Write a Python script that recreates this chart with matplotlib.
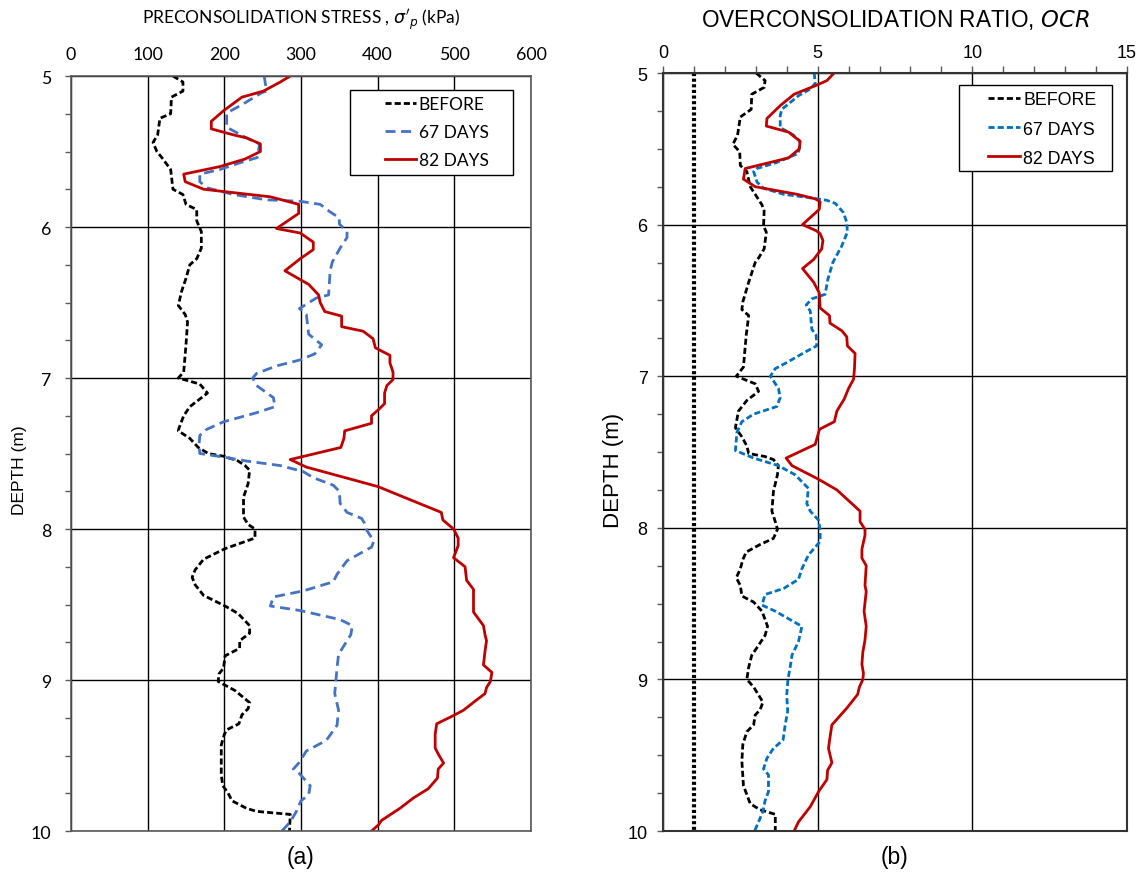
import matplotlib
matplotlib.use("Agg")
import matplotlib.pyplot as plt
from matplotlib.ticker import MultipleLocator
from matplotlib.patches import Rectangle

# ---------------- data ----------------
# (a) Preconsolidation stress, kPa
before_a_depth = [5.0, 5.04, 5.10, 5.14, 5.25, 5.28, 5.39, 5.44, 5.50, 5.55, 5.62, 5.75, 5.785, 5.85, 5.885,
                  5.96, 6.03, 6.14, 6.21, 6.25, 6.34, 6.43, 6.52, 6.58, 6.63, 6.78, 6.96, 7.00, 7.04, 7.10,
                  7.19, 7.25, 7.33, 7.35, 7.40, 7.46, 7.50, 7.52, 7.55, 7.58, 7.61, 7.70, 7.79, 7.92, 7.97,
                  8.00, 8.06, 8.13, 8.20, 8.27, 8.32, 8.37, 8.44, 8.51, 8.56, 8.64, 8.69, 8.74, 8.79, 8.84,
                  8.92, 8.96, 9.01, 9.07, 9.15, 9.19, 9.23, 9.29, 9.33, 9.36, 9.43, 9.63, 9.70, 9.75, 9.80,
                  9.85, 9.87, 9.89, 10.0]
before_a_val = [133, 146, 146, 131, 130, 116, 113, 107, 112, 120, 130, 133, 146, 150, 164,
                164, 170, 170, 164, 155, 150, 144, 140, 149, 152, 150, 147, 140, 168, 178,
                155, 147, 141, 140, 155, 166, 179, 201, 218, 227, 233, 231, 225, 225, 231,
                240, 240, 201, 173, 162, 158, 162, 173, 201, 218, 233, 233, 220, 220, 201,
                199, 193, 192, 214, 233, 231, 223, 219, 203, 200, 196, 196, 198, 205, 210,
                229, 242, 286, 285]

d67_a_depth = [5.0, 5.10, 5.11, 5.19, 5.24, 5.25, 5.34, 5.35, 5.41, 5.45, 5.54, 5.575, 5.62, 5.65, 5.70,
               5.74, 5.785, 5.82, 5.83, 5.85, 5.90, 5.94, 5.98, 6.03, 6.07, 6.14, 6.23, 6.29, 6.45, 6.47,
               6.54, 6.58, 6.71, 6.78, 6.84, 6.88, 6.92, 6.97, 7.0, 7.05, 7.13, 7.19, 7.23, 7.29, 7.34,
               7.38, 7.44, 7.50, 7.52, 7.55, 7.58, 7.62, 7.66, 7.71, 7.75, 7.83, 7.89, 7.93, 7.97, 8.01,
               8.08, 8.12, 8.21, 8.30, 8.35, 8.41, 8.45, 8.51, 8.54, 8.60, 8.64, 8.70, 8.83, 8.92, 9.09,
               9.20, 9.30, 9.40, 9.47, 9.55, 9.59, 9.62, 9.70, 9.76, 9.80, 9.87, 9.94, 10.0]
d67_a_val = [252, 255, 249, 223, 205, 203, 203, 207, 229, 246, 243, 220, 194, 168, 168,
             177, 212, 255, 299, 325, 338, 350, 350, 360, 360, 351, 341, 338, 336, 320,
             298, 307, 310, 327, 318, 299, 268, 242, 237, 242, 264, 266, 242, 199, 177,
             168, 167, 168, 194, 229, 273, 303, 316, 342, 350, 351, 360, 379, 384, 386,
             395, 392, 360, 347, 342, 303, 264, 260, 299, 351, 367, 365, 349, 347, 344,
             349, 347, 333, 307, 297, 290, 298, 312, 310, 300, 294, 286, 275]

d82_a_depth = [5.0, 5.04, 5.10, 5.14, 5.23, 5.30, 5.35, 5.39, 5.41, 5.45, 5.50, 5.55, 5.60, 5.65, 5.70,
               5.75, 5.80, 5.85, 5.91, 6.01, 6.04, 6.10, 6.15, 6.21, 6.29, 6.38, 6.45, 6.50, 6.56, 6.59,
               6.66, 6.69, 6.74, 6.80, 6.85, 6.90, 6.96, 7.01, 7.05, 7.10, 7.17, 7.21, 7.25, 7.30, 7.35,
               7.40, 7.46, 7.54, 7.59, 7.72, 7.76, 7.89, 7.94, 8.0, 8.06, 8.11, 8.19, 8.25, 8.34, 8.40,
               8.55, 8.64, 8.70, 8.74, 8.81, 8.90, 8.95, 9.01, 9.05, 9.09, 9.14, 9.20, 9.24, 9.29, 9.36,
               9.45, 9.49, 9.55, 9.59, 9.65, 9.72, 9.78, 9.85, 9.93, 9.96, 10.0]
d82_a_val = [286, 273, 251, 223, 199, 183, 183, 212, 229, 247, 247, 227, 194, 147, 149,
             173, 260, 297, 297, 268, 299, 316, 316, 299, 279, 310, 323, 325, 331, 353,
             353, 381, 394, 397, 416, 416, 420, 420, 412, 409, 409, 401, 392, 392, 357,
             356, 352, 286, 307, 401, 420, 483, 485, 499, 505, 505, 499, 514, 516, 525,
             525, 538, 540, 542, 540, 538, 549, 547, 542, 540, 527, 512, 497, 477, 475,
             475, 479, 486, 479, 478, 466, 447, 429, 405, 401, 392]

# (b) Overconsolidation ratio
before_b_depth = [5.0, 5.05, 5.095, 5.14, 5.24, 5.29, 5.41, 5.47, 5.52, 5.61, 5.65, 5.75, 5.80, 5.87, 5.91,
                  6.01, 6.05, 6.16, 6.22, 6.25, 6.38, 6.51, 6.56, 6.60, 6.73, 6.94, 7.0, 7.05, 7.10, 7.16,
                  7.23, 7.34, 7.40, 7.46, 7.51, 7.53, 7.55, 7.59, 7.65, 7.76, 7.89, 7.96, 8.01, 8.07, 8.11,
                  8.16, 8.21, 8.27, 8.33, 8.38, 8.45, 8.49, 8.55, 8.65, 8.71, 8.79, 8.84, 8.92, 9.0, 9.05,
                  9.15, 9.20, 9.235, 9.30, 9.345, 9.43, 9.54, 9.70, 9.76, 9.82, 9.86, 9.89, 10.0]
before_b_val = [3.01, 3.30, 3.27, 2.87, 2.85, 2.50, 2.41, 2.26, 2.48, 2.50, 2.71, 2.82, 2.98, 3.20, 3.27,
                3.25, 3.34, 3.27, 3.09, 2.98, 2.77, 2.58, 2.55, 2.77, 2.69, 2.60, 2.37, 2.98, 3.09, 2.71,
                2.44, 2.34, 2.55, 2.71, 2.77, 3.30, 3.57, 3.73, 3.70, 3.57, 3.52, 3.63, 3.70, 3.57, 3.14,
                2.69, 2.58, 2.50, 2.37, 2.50, 2.55, 2.93, 3.20, 3.38, 3.30, 3.04, 2.87, 2.77, 2.71, 2.93,
                3.23, 3.14, 2.98, 2.93, 2.71, 2.58, 2.55, 2.60, 2.71, 2.82, 3.14, 3.63, 3.63]

d67_b_depth = [5.0, 5.07, 5.105, 5.15, 5.24, 5.28, 5.36, 5.41, 5.45, 5.53, 5.59, 5.63, 5.65, 5.72, 5.76,
               5.80, 5.82, 5.84, 5.86, 5.92, 5.985, 6.05, 6.14, 6.25, 6.36, 6.46, 6.49, 6.53, 6.57, 6.69,
               6.73, 6.80, 6.84, 6.91, 6.95, 7.0, 7.08, 7.14, 7.20, 7.25, 7.30, 7.37, 7.49, 7.54, 7.59,
               7.65, 7.74, 7.84, 7.89, 7.95, 8.02, 8.09, 8.18, 8.27, 8.34, 8.40, 8.44, 8.51, 8.55, 8.65,
               8.75, 8.84, 8.92, 9.0, 9.10, 9.21, 9.30, 9.40, 9.455, 9.52, 9.59, 9.63, 9.74, 9.80, 9.87,
               9.94, 10.0]
d67_b_val = [4.89, 4.92, 4.76, 4.38, 3.84, 3.79, 3.79, 4.22, 4.43, 4.38, 3.68, 3.04, 2.93, 3.04, 3.25,
             3.90, 4.65, 5.30, 5.57, 5.83, 5.94, 5.96, 5.78, 5.49, 5.33, 5.24, 4.81, 4.63, 4.76, 4.81,
             4.95, 4.97, 4.60, 4.00, 3.63, 3.47, 3.73, 3.79, 3.68, 2.93, 2.55, 2.39, 2.34, 2.93, 3.73,
             4.27, 4.70, 4.65, 4.76, 5.03, 5.08, 5.08, 4.70, 4.49, 4.38, 3.90, 3.30, 3.20, 3.63, 4.49,
             4.38, 4.17, 4.11, 4.04, 4.00, 4.03, 3.95, 3.88, 3.57, 3.36, 3.25, 3.41, 3.41, 3.30, 3.23,
             3.09, 2.96]

d82_b_depth = [5.0, 5.05, 5.08, 5.14, 5.215, 5.30, 5.35, 5.39, 5.45, 5.50, 5.56, 5.63, 5.70, 5.75, 5.80,
               5.83, 5.85, 5.90, 6.0, 6.04, 6.06, 6.105, 6.16, 6.23, 6.29, 6.38, 6.45, 6.55, 6.60, 6.65,
               6.70, 6.74, 6.80, 6.85, 6.95, 7.02, 7.08, 7.15, 7.23, 7.30, 7.35, 7.45, 7.54, 7.59, 7.68,
               7.75, 7.89, 7.96, 8.01, 8.05, 8.14, 8.20, 8.25, 8.38, 8.42, 8.55, 8.65, 8.74, 8.82, 8.90,
               8.96, 9.0, 9.05, 9.10, 9.19, 9.30, 9.38, 9.455, 9.55, 9.60, 9.66, 9.74, 9.84, 9.94, 10.0]
d82_b_val = [5.53, 5.30, 4.97, 4.24, 3.79, 3.36, 3.34, 4.06, 4.43, 4.41, 4.06, 2.66, 2.60, 2.98, 4.33,
             4.92, 5.08, 5.05, 4.51, 4.95, 5.08, 5.17, 5.13, 4.87, 4.51, 4.87, 5.05, 5.08, 5.38, 5.40,
             5.78, 5.94, 5.96, 6.21, 6.19, 6.16, 6.00, 5.86, 5.62, 5.54, 5.06, 4.92, 3.98, 4.17, 5.03,
             5.62, 6.37, 6.37, 6.53, 6.53, 6.43, 6.43, 6.57, 6.53, 6.57, 6.50, 6.57, 6.53, 6.46, 6.43,
             6.48, 6.46, 6.35, 6.29, 5.94, 5.46, 5.40, 5.35, 5.46, 5.32, 5.30, 5.03, 4.76, 4.38, 4.24]

ocr_ref = [1.0, 1.0]
ocr_ref_depth = [5.0, 10.0]

series_labels = ["BEFORE", "67 DAYS", "82 DAYS"]
xticks_a = [0, 100, 200, 300, 400, 500, 600]
xticks_b = [0, 5, 10, 15]
yticks = [5, 6, 7, 8, 9, 10]

# ---------------- figure ----------------
W, H = 1139, 878
fig = plt.figure(figsize=(W / 100, H / 100), dpi=100)

def frac(x0, y0, x1, y1):
    return [x0 / W, 1 - y1 / H, (x1 - x0) / W, (y1 - y0) / H]

axA = fig.add_axes(frac(71, 77, 531, 832))
axB = fig.add_axes(frac(663, 74, 1127, 832))

spine_col = "#595959"
grid_col = "#000000"

fontA = ["Lato", "DejaVu Sans"]
fontB = ["Liberation Sans", "DejaVu Sans"]

# ---- panel (a) ----
axA.plot(before_a_val, before_a_depth, color="black", lw=2.0, ls=(0, (2.2, 1.1)), label=series_labels[0])
axA.plot(d67_a_val, d67_a_depth, color="#4472C4", lw=2.0, ls=(0, (3.6, 2.0)), label=series_labels[1])
axA.plot(d82_a_val, d82_a_depth, color="#C00000", lw=2.0, ls="-", label=series_labels[2])
axA.set_xlim(0, 600)
axA.set_ylim(10, 5)
axA.set_xticks(xticks_a)
axA.set_yticks(yticks)
axA.yaxis.set_minor_locator(MultipleLocator(0.25))
axA.xaxis.tick_top()
axA.tick_params(axis="x", which="both", length=0, pad=10)
axA.tick_params(axis="y", which="major", length=4, width=1, color=spine_col, pad=10)
axA.tick_params(axis="y", which="minor", length=4, width=1, color=spine_col)
for lab in axA.get_xticklabels() + axA.get_yticklabels():
    lab.set_family(fontA)
    lab.set_fontsize(12.8)
axA.grid(True, which="major", color=grid_col, lw=1.0)
axA.set_axisbelow(True)
for s in axA.spines.values():
    s.set_color(spine_col)
    s.set_linewidth(1.2)
axA.add_patch(Rectangle((0.6065, 0.8689), 0.3543, 0.1126, transform=axA.transAxes,
                        facecolor="white", edgecolor="black", lw=1.0, zorder=4))
legA = axA.legend(loc="center left", bbox_to_anchor=(0.6826, 0.9258),
                  frameon=False, prop={"family": fontA, "size": 12.5},
                  handlelength=1.78, handletextpad=0.15, borderpad=0.0,
                  labelspacing=0.7, borderaxespad=0)
legA.set_zorder(5)

# ---- panel (b) ----
axB.plot(ocr_ref, ocr_ref_depth, color="black", lw=3.0, ls=(0, (0.75, 0.6)))
axB.plot(before_b_val, before_b_depth, color="black", lw=2.0, ls=(0, (2.2, 1.1)), label=series_labels[0])
axB.plot(d67_b_val, d67_b_depth, color="#0070C0", lw=2.0, ls=(0, (2.2, 1.1)), label=series_labels[1])
axB.plot(d82_b_val, d82_b_depth, color="#C00000", lw=2.0, ls="-", label=series_labels[2])
axB.set_xlim(0, 15)
axB.set_ylim(10, 5)
axB.set_xticks(xticks_b)
axB.set_yticks(yticks)
axB.xaxis.set_minor_locator(MultipleLocator(1))
axB.yaxis.set_minor_locator(MultipleLocator(0.25))
axB.xaxis.tick_top()
axB.tick_params(axis="x", which="both", length=5, width=1, color=spine_col, pad=4)
axB.tick_params(axis="y", which="both", length=4, width=1, color=spine_col, pad=7)
for lab in axB.get_xticklabels() + axB.get_yticklabels():
    lab.set_family(fontB)
    lab.set_fontsize(13)
axB.grid(True, which="major", color=grid_col, lw=1.0)
axB.set_axisbelow(True)
for s in axB.spines.values():
    s.set_color("#333333")
    s.set_linewidth(1.5)
axB.add_patch(Rectangle((0.6379, 0.8707), 0.3297, 0.1135, transform=axB.transAxes,
                        facecolor="white", edgecolor="black", lw=1.0, zorder=4))
legB = axB.legend(loc="center left", bbox_to_anchor=(0.7004, 0.9261),
                  frameon=False, prop={"family": fontB, "size": 12.8},
                  handlelength=1.8, handletextpad=0.17, borderpad=0.0,
                  labelspacing=0.68, borderaxespad=0)
legB.set_zorder(5)

# ---- titles and labels ----
fig.text(301 / W, 1 - 20 / H, "PRECONSOLIDATION STRESS , $\\sigma'_p$ (kPa)", ha="center", va="center",
         family=fontA, fontsize=12.5)
fig.text(895 / W, 1 - 20 / H, "OVERCONSOLIDATION RATIO, $\\mathit{OCR}$", ha="center", va="center",
         family=fontB, fontsize=16.3)
fig.text(20 / W, 1 - 470 / H, "DEPTH (m)", rotation=90, ha="center", va="center",
         family=fontB, fontsize=12.5)
fig.text(613 / W, 1 - 470 / H, "DEPTH (m)", rotation=90, ha="center", va="center",
         family=fontB, fontsize=16)
fig.text(301 / W, 1 - 858 / H, "(a)", ha="center", va="center", family=fontB, fontsize=16.5)
fig.text(895 / W, 1 - 858 / H, "(b)", ha="center", va="center", family=fontB, fontsize=16.5)

fig.savefig("out.png", dpi=100)
